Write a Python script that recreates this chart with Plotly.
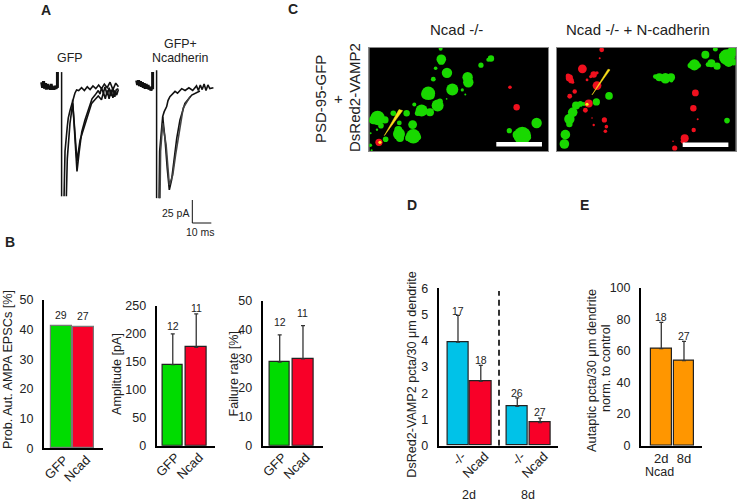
import plotly.graph_objects as go

W, H = 739, 503
FONT = "Liberation Sans"
INK = "#222222"
GREEN, RED, BLUE, ORANGE = "#00dc00", "#f80028", "#00c2e8", "#ff9600"

# ---------- Panel A: sweeps (ms, pA) ----------
a1_pre_t = [3.5,4,4.5,5,5.5,6,6.5,7,7.5,8,8.5,9,9.5,10,10.5,11,11.4,11.8,11.8]
a1_pre_i = [3,-3,4,-4,2,-5,1,-4,-1,-5,1,-5,-2,-5,-1,-4,-2,-3,14]
a1_stim_t = [14,14]
a1_stim_i = [14,-121]
a1_s1_t = [15.3,15.8,17,17.5,18.4,19.8,20.5,21,21.9,23,24.5,26,27.5,29,30.5,32,33.5,35,36.5,38,39.5,41,42.5,43.9]
a1_s1_i = [-121,-72,-45,-36,-28,-16,-12,-9,-5.4,-6,-3,-6,-2,-5,-1,-4,0,-4,1,-3,3,-5,2,-2]
a1_s2_t = [19.8,21,22.1,23.3,24.6,26.3,27.5,28.9,30,31.6,33.3,34.2,35,36,36.8,38,39,40,41,42,42.8,43.9]
a1_s2_i = [-16,-51,-94,-72,-51,-38,-30,-22,-15,-11,-6,-10,-3,-9,-2,-11,-3,-12,-3,-13,-5,-4]
a1_s3_t = [16.5,17,18.4,19.8,20.7,22.1,23.7,25,26.3,28,29.8,31.5,33.3,35,36,37,38,39,40,41,42,43,43.9]
a1_s3_i = [-121,-80,-42,-20,-43,-83,-60,-52,-43,-33,-20,-16,-12,-16,-8,-15,-6,-15,-5,-14,-6,-11,-5]

a2_pre_t = [3.5,4,4.5,5,5.5,6,6.5,7,7.5,8,8.5,9,9.5,10,10.5,11,11.5,11.9,11.9]
a2_pre_i = [5,0,5,-1,4,-2,3,-3,2,-4,1,-4,0,-5,-2,-6,-3,-3,14]
a2_stim_t = [14,14]
a2_stim_i = [16,-123]
a2_s1_t = [15.3,15.6,17.2,18,19.3,20,21,22.5,23.7,25,27.2,29,31,33,35,36,37,38,39,40,41,42,43.9]
a2_s1_i = [-123,-72,-34.4,-29,-23.5,-17,-12.7,-10,-7,-9,-4,-6,-3,-6,-1,-6,0,-5,1,-6,0,-4,-3]
a2_s2_t = [17.2,18.4,19.6,20.7,21.9,23.2,24.6,26.3,28.9,32.5,36.8]
a2_s2_i = [-34.4,-58,-90.6,-114,-103,-83,-58,-38,-20,-11,-6.5]
a2_s3_t = [15.8,16.1,17.2,19,20.7,22.5,24,25.8,28,31.6]
a2_s3_i = [-123,-72,-41.7,-65,-108.7,-98,-76,-51,-25,-12.7]
scale_t = [32.8,32.8,42.8]
scale_i = [-125,-150,-150]

# ---------- Panel C: puncta (image x, image y, diameter) ----------
c1_green = [(227,15,10),(229,46,24),(229,52,18),(212,73,9),(246,87,26),(205,106,12),(308,100,26),(310,115,26),
            (262,137,30),(378,44,16),(370,48,10),(348,64,13),(292,138,8),(301,152,5),(245,165,4),(190,148,34),
            (183,152,24),(197,155,20),(148,182,10),(170,200,30),(195,205,20),(218,185,30),(225,172,14),(158,208,14),
            (38,222,36),(25,228,22),(60,228,18),(48,245,14),(85,208,14),(125,208,16),(103,237,12),(143,242,22),
            (36,257,6),(102,270,30),(100,258,20),(105,282,20),(145,277,36),(130,282,16),(160,280,14),(62,286,14),
            (17,268,5),(16,304,9),(15,231,5),(20,319,5),(515,237,26),(433,260,13),(472,275,44),(455,272,20),
            (490,280,14),(478,290,14)]
c1_red = [(435,130,9),(455,190,16),(42,295,18)]
c1_yellow = [(45,295,8)]
c1_arrow_x = [58,102,113,58]
c1_arrow_y = [275,197,200,275]
c1_bar_x = [394,531]
c1_bar_y = [301,301]

c2_green = [(40,272,24),(37,300,24),(52,225,26),(52,240,16),(62,205,24),(72,185,20),(85,180,14),(96,180,10),
            (133,174,18),(171,156,19),(525,230,14),(322,100,20),(340,103,26),(357,100,20),(358,110,10),(310,98,12),
            (427,63,28),(415,65,14),(440,65,12),(460,33,20),(490,16,12),(478,58,20),(495,67,18),(468,62,12),
            (525,40,40),(540,25,26),(530,55,24),(510,35,14),(545,55,16)]
c2_red = [(149,18,12),(143,43,5),(91,75,22),(52,102,18),(57,110,14),(48,96,12),(62,115,8),(125,92,16),(135,87,8),
          (116,98,8),(105,108,7),(135,125,22),(68,143,11),(53,157,12),(110,179,20),(100,199,12),(157,228,13),
          (120,222,4),(125,243,6),(163,248,9),(160,262,9),(430,147,17),(424,193,16),(437,226,5),(425,258,11),
          (398,283,20),(393,292,12),(363,292,4),(368,312,13)]
c2_yellow = [(105,181,8)]
c2_arrow_x = [120,168,174,120]
c2_arrow_y = [153,76,78,153]
c2_bar_x = [392,529]
c2_bar_y = [302,302]

# ---------- Bar panels ----------
b1_labels = ["GFP","Ncad"]
b1_values = [41.4,40.8]
b1_n = ["29","27"]

b2_labels = ["GFP","Ncad"]
b2_values = [145,176]
b2_err = [55,60]
b2_n = ["12","11"]

b3_labels = ["GFP","Ncad"]
b3_values = [28.9,30]
b3_err = [9.4,11.5]
b3_n = ["12","11"]

d_labels = ["-/-","Ncad","-/-","Ncad"]
d_values = [3.95,2.45,1.5,0.88]
d_err = [1.02,0.61,0.32,0.17]
d_n = ["17","18","26","27"]

e_labels = ["2d","8d"]
e_values = [61.4,53.8]
e_err = [16.6,12.2]
e_n = ["18","27"]


def px(x): return x / W
def py(y): return 1 - y / H

fig = go.Figure()
annotations = []

def ax_pair(i, x0, x1, ybot, ytop, xr, yr, **kw):
    sx = "" if i == 1 else str(i)
    fig.layout["xaxis" + sx] = dict(domain=[px(x0), px(x1)], range=xr, anchor="y" + sx, showgrid=False,
                                    zeroline=False, **kw.get("xk", {}))
    fig.layout["yaxis" + sx] = dict(domain=[py(ybot), py(ytop)], range=yr, anchor="x" + sx, showgrid=False,
                                    zeroline=False, **kw.get("yk", {}))
    return "x" + sx, "y" + sx

hidden = dict(visible=False)

def label(x, y, text, size=12, rot=0, bold=False, color=INK):
    annotations.append(dict(x=px(x), y=py(y), xref="paper", yref="paper", text=("<b>%s</b>" % text) if bold else text,
                            showarrow=False, xanchor="center", yanchor="middle", textangle=rot,
                            font=dict(size=size, family=FONT, color=color)))

# Panel A
A_RANGE_X, A_RANGE_Y = [0, 47.37], [-157.6, 21.7]
xa, ya = ax_pair(1, 35, 125, 230, 65, A_RANGE_X, A_RANGE_Y, xk=hidden, yk=hidden)
for t, i, w in [(a1_pre_t, a1_pre_i, 3), (a1_stim_t, a1_stim_i, 1.5), (a1_s1_t, a1_s1_i, 1.6),
                (a1_s2_t, a1_s2_i, 1.6), (a1_s3_t, a1_s3_i, 1.6)]:
    fig.add_trace(go.Scatter(x=t, y=i, mode="lines", line=dict(color="#111111", width=w), xaxis=xa, yaxis=ya, showlegend=False))
xa, ya = ax_pair(2, 130, 220, 230, 65, A_RANGE_X, A_RANGE_Y, xk=hidden, yk=hidden)
for t, i, w, c in [(a2_pre_t, a2_pre_i, 3, "#111111"), (a2_stim_t, a2_stim_i, 1.5, "#111111"), (a2_s1_t, a2_s1_i, 1.6, "#111111"),
                   (a2_s2_t, a2_s2_i, 1.6, "#111111"), (a2_s3_t, a2_s3_i, 1.6, "#444444"), (scale_t, scale_i, 1, "#111111")]:
    fig.add_trace(go.Scatter(x=t, y=i, mode="lines", line=dict(color=c, width=w), xaxis=xa, yaxis=ya, showlegend=False))

# Panel C
frame = dict(showticklabels=False, ticks="", showline=True, linecolor="#888888", linewidth=1, mirror=True)

def puncta(xa, ya, pts, color):
    fig.add_trace(go.Scatter(x=[p[0] for p in pts], y=[p[1] for p in pts], mode="markers",
                             marker=dict(color=color, size=[p[2] / 2.5 for p in pts], opacity=1, line=dict(width=0)),
                             xaxis=xa, yaxis=ya, showlegend=False))

def image_panel(i, x0, x1, rng, green, red, yellow, ax_, ay_, bx, by):
    xa, ya = ax_pair(i, x0, x1, 151, 47.5, rng, [321, 11], xk=frame, yk=frame)
    fig.add_shape(type="rect", xref=xa + " domain", yref=ya + " domain", x0=0, x1=1, y0=0, y1=1,
                  fillcolor="black", line=dict(width=0), layer="below")
    puncta(xa, ya, green, "#19d800")
    puncta(xa, ya, red, "#f0101e")
    puncta(xa, ya, yellow, "#ffe81a")
    fig.add_trace(go.Scatter(x=ax_, y=ay_, mode="lines", fill="toself", fillcolor="#ffe21a",
                             line=dict(color="#ffe21a", width=0.5), xaxis=xa, yaxis=ya, showlegend=False))
    fig.add_trace(go.Scatter(x=bx, y=by, mode="lines", line=dict(color="white", width=4.5), xaxis=xa, yaxis=ya, showlegend=False))

image_panel(3, 369.3, 548.3, [13, 550], c1_green, c1_red, c1_yellow, c1_arrow_x, c1_arrow_y, c1_bar_x, c1_bar_y)
image_panel(4, 556.7, 735.7, [14, 551], c2_green, c2_red, c2_yellow, c2_arrow_x, c2_arrow_y, c2_bar_x, c2_bar_y)

# Bar panels
def bar_panel(i, x0, x1, ybot, ytop, xr, ymax, dtick, pos, labels, values, colors, err, n, width, shifts,
              angle=-45, line_color="#222222", lab_shift=3, lab_standoff=-3):
    xk = dict(showline=True, linecolor="black", linewidth=2, ticks="", tickmode="array", tickvals=pos, ticktext=labels,
              tickangle=angle, ticklabelshift=lab_shift, ticklabelstandoff=lab_standoff,
              tickfont=dict(size=13, family=FONT, color=INK))
    yk = dict(showline=True, linecolor="black", linewidth=2, ticks="", tickmode="linear", tick0=0, dtick=dtick,
              ticklabelstandoff=6, tickfont=dict(size=12.5, family=FONT, color=INK))
    xa, ya = ax_pair(i, x0, x1, ybot, ytop, xr, [0, ymax], xk=xk, yk=yk)
    bar = dict(x=pos, y=values, width=width, marker=dict(color=colors, line=dict(color=line_color, width=1.2)),
               xaxis=xa, yaxis=ya, showlegend=False)
    if err is not None:
        bar["error_y"] = dict(type="data", symmetric=False, array=err, arrayminus=[0] * len(err),
                              color="#333333", thickness=1.3, width=2)
    fig.add_trace(go.Bar(**bar))
    for j, lab in enumerate(n):
        top = values[j] + (err[j] if err is not None else 0)
        annotations.append(dict(x=pos[j], y=top, xref=xa, yref=ya, text=lab, showarrow=False, yanchor="bottom",
                                yshift=shifts[j], font=dict(size=10.5, family=FONT, color=INK)))
    return xa, ya

bar_panel(5, 44, 103, 448.3, 300, [-0.78, 1.88], 50, 10, [0, 1], b1_labels, b1_values, [GREEN, RED], None, b1_n, 0.93, [3, 3], line_color="#777777")
bar_panel(6, 156.7, 215, 445.7, 306, [-0.685, 1.8], 250, 50, [0, 1], b2_labels, b2_values, [GREEN, RED], b2_err, b2_n, 0.87, [0, -2])
bar_panel(7, 262.7, 323, 445.7, 301, [-0.73, 1.86], 50, 10, [0, 1], b3_labels, b3_values, [GREEN, RED], b3_err, b3_n, 0.88, [5, 5])
d_pos = [0, 1, 2.6, 3.6]
xd, yd = bar_panel(8, 438.7, 558, 445.7, 288.3, [-0.846, 4.386], 6, 1, d_pos, d_labels, d_values, [BLUE, RED, BLUE, RED], d_err, d_n, 0.94, [-4, -3, -3, -2], lab_shift=4, lab_standoff=-4)
bar_panel(9, 641, 701.7, 445.7, 287.7, [-0.894, 1.78], 100, 20, [0, 1], e_labels, e_values, [ORANGE, ORANGE], e_err, e_n, 0.92, [-3, -3], angle=0, lab_shift=0, lab_standoff=0)
fig.add_shape(type="line", xref=xd, yref=yd, x0=1.8, x1=1.8, y0=0, y1=5.9, line=dict(color="#333333", width=2, dash="6px,4px"))

# Text
for x, y, t in [(46, 10, "A"), (10, 242, "B"), (293, 9, "C"), (412, 205, "D"), (584, 205, "E")]:
    label(x, y, t, size=14, bold=True)
label(69, 58, "GFP", 12.4)
label(180, 44, "GFP+", 12.4)
label(180, 58, "Ncadherin", 12.4)
label(175, 213, "25 pA", 10.5)
label(201, 232, "10 ms", 10.5)
label(457, 30, "Ncad -/-", 15)
label(638, 30, "Ncad -/- + N-cadherin", 15)
label(321, 99, "PSD-95-GFP", 15, rot=-90)
label(338, 99, "+", 15)
label(354, 98, "DsRed2-VAMP2", 15, rot=-90)
label(8, 370, "Prob. Aut. AMPA EPSCs [%]", 12.7, rot=-90)
label(117, 374, "Amplitude [pA]", 12.6, rot=-90)
label(233, 374.5, "Failure rate [%]", 12.6, rot=-90)
label(411.7, 374, "DsRed2-VAMP2 pcta/30 μm dendrite", 12.6, rot=-90)
label(591, 371, "Autaptic pcta/30 μm dendrite", 12.8, rot=-90)
label(606, 368, "norm. to control", 12.6, rot=-90)
label(469, 495, "2d", 12.5)
label(528, 495, "8d", 12.5)
label(659, 472, "Ncad", 12.5)

fig.update_layout(width=W, height=H, margin=dict(l=0, r=0, t=0, b=0, pad=0, autoexpand=False), paper_bgcolor="white",
                  plot_bgcolor="white", annotations=annotations, bargap=0, font=dict(family=FONT))
fig.write_html("out.html", config={"displayModeBar": False}, post_script="document.body.style.margin='0';")
